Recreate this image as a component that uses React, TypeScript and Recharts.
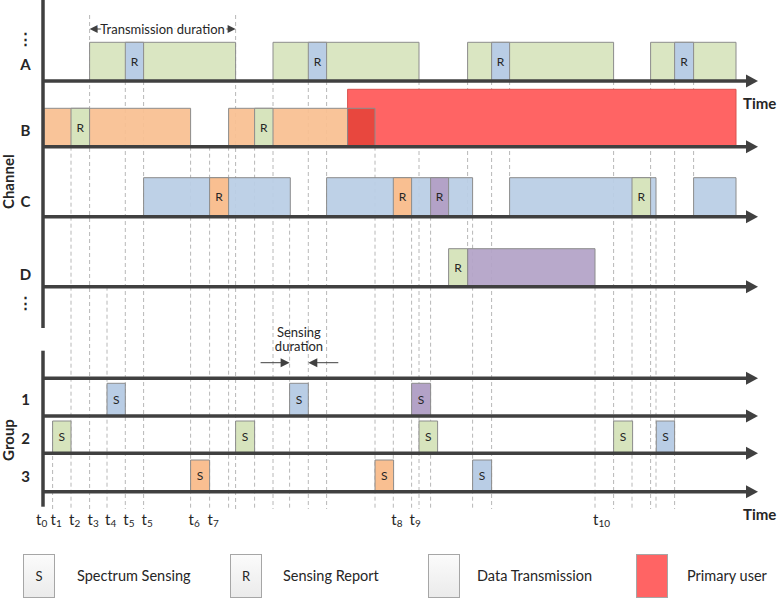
import React from 'react';
import { ComposedChart, XAxis, YAxis, ReferenceArea, ReferenceLine, Legend } from 'recharts';

// ---- chart values (time in slot units) ----
const channels = ['A', 'B', 'C', 'D'];
const groups = ['1', '2', '3'];

// data transmissions per channel
const transmissions = [
  { row: 'A', user: 'SU-A', start: 46.6, end: 192.6 },
  { row: 'A', user: 'SU-A', start: 230, end: 376 },
  { row: 'A', user: 'SU-A', start: 424.6, end: 570.6 },
  { row: 'A', user: 'SU-A', start: 607.6, end: 693 },
  { row: 'B', user: 'SU-B', start: 1, end: 147.6 },
  { row: 'B', user: 'SU-B', start: 185.6, end: 332 },
  { row: 'C', user: 'SU-C', start: 100.6, end: 247.3 },
  { row: 'C', user: 'SU-C', start: 283.6, end: 429.6 },
  { row: 'C', user: 'SU-C', start: 466.6, end: 613 },
  { row: 'C', user: 'SU-C', start: 650.6, end: 693 },
  { row: 'D', user: 'SU-D', start: 424.6, end: 552 },
];

// sensing reports sent on a channel
const reports = [
  { row: 'A', user: 'SU-C', start: 82.3, end: 100.6 },
  { row: 'A', user: 'SU-C', start: 265.3, end: 283.6 },
  { row: 'A', user: 'SU-C', start: 448.6, end: 466.6 },
  { row: 'A', user: 'SU-C', start: 631.6, end: 650.6 },
  { row: 'B', user: 'SU-A', start: 28, end: 46.6 },
  { row: 'B', user: 'SU-A', start: 211.6, end: 230 },
  { row: 'C', user: 'SU-B', start: 166.6, end: 185.6 },
  { row: 'C', user: 'SU-B', start: 350.3, end: 368.6 },
  { row: 'C', user: 'SU-D', start: 387.6, end: 405.6 },
  { row: 'C', user: 'SU-A', start: 589, end: 607.6 },
  { row: 'D', user: 'SU-A', start: 405.6, end: 424.6 },
];

// primary user occupancy
const primaryUse = [{ row: 'B', start: 304.6, end: 693 }];

// spectrum sensing per group
const sensing = [
  { row: '1', user: 'SU-C', start: 64, end: 82.3 },
  { row: '1', user: 'SU-C', start: 246.6, end: 265.3 },
  { row: '1', user: 'SU-D', start: 368.6, end: 387.6 },
  { row: '2', user: 'SU-A', start: 9.6, end: 28 },
  { row: '2', user: 'SU-A', start: 192.6, end: 211.6 },
  { row: '2', user: 'SU-A', start: 376, end: 394.6 },
  { row: '2', user: 'SU-A', start: 570.6, end: 589.6 },
  { row: '2', user: 'SU-C', start: 613.3, end: 631.6 },
  { row: '3', user: 'SU-B', start: 147.6, end: 166.6 },
  { row: '3', user: 'SU-B', start: 332, end: 350.6 },
  { row: '3', user: 'SU-C', start: 429.6, end: 448.6 },
];

const tickTimes = [0, 9.6, 28, 46.6, 64, 82.3, 100.6, 147.6, 166.6, 350.3, 368.6, 552];
const tickSubs = ['0', '1', '2', '3', '4', '5', '5', '6', '7', '8', '9', '10'];

// dashed guides: time and the level they hang from
const guides = [
  { t: 9.6, from: 'g2top' },
  { t: 28, from: 'B' },
  { t: 46.6, from: 'note' },
  { t: 64, from: 'D' },
  { t: 82.3, from: 'A' },
  { t: 100.6, from: 'A' },
  { t: 147.6, from: 'B' },
  { t: 166.6, from: 'B' },
  { t: 185.6, from: 'B' },
  { t: 192.6, from: 'note' },
  { t: 211.6, from: 'B' },
  { t: 230, from: 'A' },
  { t: 246.6, from: 'C' },
  { t: 265.3, from: 'A' },
  { t: 283.6, from: 'A' },
  { t: 332, from: 'B' },
  { t: 350.3, from: 'C' },
  { t: 368.6, from: 'C' },
  { t: 376, from: 'A' },
  { t: 387.6, from: 'C' },
  { t: 424.6, from: 'A', to: 'Dtop' },
  { t: 429.6, from: 'C' },
  { t: 448.6, from: 'A' },
  { t: 466.6, from: 'A', to: 'Ctop' },
  { t: 552, from: 'D' },
  { t: 570.6, from: 'A' },
  { t: 589, from: 'C' },
  { t: 607.6, from: 'A' },
  { t: 613, from: 'C' },
  { t: 631.6, from: 'A' },
  { t: 650.6, from: 'A', to: 'Ctop' },
];

const transmissionSpan = [46.6, 192.6];
const sensingSpan = [246.6, 265.3];

const legendItems = [
  { mark: 'S', label: 'Spectrum Sensing', user: '' },
  { mark: 'R', label: 'Sensing Report', user: '' },
  { mark: '', label: 'Data Transmission', user: '' },
  { mark: '', label: 'Primary user', user: 'PU' },
];

// ---- layout / styles ----
const W = 777;
const H = 599;
const GUTTER = 43;
const PLOT_H = 510;
const T_MAX = W - GUTTER;
const T_ARROW = 715;
const FONT = 'Lato, "Open Sans", sans-serif';
const INK = '#262626';
const AXIS_INK = '#404040';
const GUIDE = '#B8B8B8';
const EDGE = '#8C8C8C';

const userFill: Record<string, string> = {
  'SU-A': '#D7E4BD',
  'SU-B': '#F9BF91',
  'SU-C': '#B9CDE5',
  'SU-D': '#B3A2C7',
  PU: '#FF6464',
};
const OVERLAP = '#E8473E';

const rowBase: Record<string, number> = { A: 81, B: 146.7, C: 216.7, D: 286.7, '1': 416, '2': 453.3, '3': 491.7 };
const rowTop: Record<string, number> = { A: 42.3, B: 108.3, C: 177.7, D: 248.7, '1': 383.3, '2': 421, '3': 460 };
const PU_TOP = 89.3;
const levels: Record<string, number> = {
  ...rowBase,
  note: 15,
  g2top: 421,
  Ctop: 177.7,
  Dtop: 248.7,
  bottom: 509,
};
const arrowRows = [
  { y: rowBase.A, caption: true },
  { y: rowBase.B, caption: false },
  { y: rowBase.C, caption: false },
  { y: rowBase.D, caption: false },
  { y: 378.3, caption: false },
  { y: rowBase['1'], caption: false },
  { y: rowBase['2'], caption: false },
  { y: rowBase['3'], caption: true },
];
const rowLabels = ['⋮', ...channels, '⋮', ...groups];
const rowLabelY = [39, 64.3, 131, 202, 274.7, 303, 400, 438.7, 476.8];
const legendBoxLeft = [23, 230, 428, 636];
const legendTextLeft = [77, 283, 477, 687];

const ArrowLine = (props: any) => {
  const { x1, y1, x2, caption } = props;
  return (
    <g>
      <line x1={x1} y1={y1} x2={x2 - 10} y2={y1} stroke={AXIS_INK} strokeWidth={3.5} />
      <polygon points={`${x2},${y1} ${x2 - 12},${y1 - 6.5} ${x2 - 12},${y1 + 6.5}`} fill={AXIS_INK} />
      {caption && (
        <text x={x2 - 15} y={y1 + 28} fontFamily={FONT} fontSize={15} fontWeight={700} fill={INK}>
          Time
        </text>
      )}
    </g>
  );
};

const TransmissionNote = (props: any) => {
  const { x1, y1, x2 } = props;
  const mid = (x1 + x2) / 2;
  return (
    <g>
      <line x1={x1 + 6} y1={y1} x2={x2 - 6} y2={y1} stroke={AXIS_INK} strokeWidth={1} />
      <polygon points={`${x1},${y1} ${x1 + 8},${y1 - 4} ${x1 + 8},${y1 + 4}`} fill={AXIS_INK} />
      <polygon points={`${x2},${y1} ${x2 - 8},${y1 - 4} ${x2 - 8},${y1 + 4}`} fill={AXIS_INK} />
      <text x={mid} y={y1 + 4.5} textAnchor="middle" fontFamily={FONT} fontSize={13} fill={INK}
        stroke="#fff" strokeWidth={5} paintOrder="stroke">
        Transmission duration
      </text>
    </g>
  );
};

const SensingNote = (props: any) => {
  const { x1, y1, x2 } = props;
  const mid = (x1 + x2) / 2;
  return (
    <g>
      <line x1={x1 - 29} y1={y1} x2={x1 - 6} y2={y1} stroke={AXIS_INK} strokeWidth={1} />
      <polygon points={`${x1},${y1} ${x1 - 9},${y1 - 4.5} ${x1 - 9},${y1 + 4.5}`} fill={AXIS_INK} />
      <line x1={x2 + 6} y1={y1} x2={x2 + 30} y2={y1} stroke={AXIS_INK} strokeWidth={1} />
      <polygon points={`${x2},${y1} ${x2 + 9},${y1 - 4.5} ${x2 + 9},${y1 + 4.5}`} fill={AXIS_INK} />
      <text x={mid} y={y1 - 26} textAnchor="middle" fontFamily={FONT} fontSize={13} fill={INK}>Sensing</text>
      <text x={mid} y={y1 - 11.5} textAnchor="middle" fontFamily={FONT} fontSize={13} fill={INK}>duration</text>
    </g>
  );
};

const renderTimeTick = (props: any) => {
  const { x, y, index } = props;
  // t0 sits just left of the vertical axis
  const left = index === 0 ? x - 7 : x - 2;
  return (
    <text x={left} y={y + 15} fontFamily={FONT} fontSize={15} fill={INK}>
      t<tspan fontSize={10} dy={2}>{tickSubs[index]}</tspan>
    </text>
  );
};

const renderRowTick = (props: any) => {
  const { x, y, index } = props;
  return (
    <text x={x - 17.5} y={y} dy="0.36em" textAnchor="middle" fontFamily={FONT} fontSize={15} fontWeight={700} fill={INK}>
      {rowLabels[index]}
    </text>
  );
};

const LegendBar = () => (
  <div style={{ position: 'relative', width: W, height: 45, fontFamily: FONT, color: INK }}>
    {legendItems.map((item, i) => (
      <React.Fragment key={item.label}>
        <div
          style={{
            position: 'absolute',
            left: legendBoxLeft[i],
            top: 0,
            width: 32,
            height: 44,
            boxSizing: 'border-box',
            border: '1px solid #A6A6A6',
            background: item.user ? userFill[item.user] : 'linear-gradient(#fbfbfb, #ebebeb)',
            display: 'flex',
            alignItems: 'center',
            justifyContent: 'center',
            fontSize: 13,
          }}
        >
          {item.mark}
        </div>
        <span style={{ position: 'absolute', left: legendTextLeft[i], top: 12, fontSize: 14.5, lineHeight: '20px', whiteSpace: 'nowrap' }}>
          {item.label}
        </span>
      </React.Fragment>
    ))}
  </div>
);

const markLabel = (value: string) => ({ value, position: 'center' as const, fill: INK, fontSize: 12, fontFamily: FONT });

export default function App() {
  const overlaps = transmissions
    .filter((b) => primaryUse.some((p) => p.row === b.row))
    .flatMap((b) =>
      primaryUse
        .filter((p) => p.row === b.row && Math.min(b.end, p.end) > Math.max(b.start, p.start))
        .map((p) => ({ row: b.row, start: Math.max(b.start, p.start), end: Math.min(b.end, p.end) }))
    );

  return (
    <div style={{ width: W, height: H, position: 'relative', background: '#fff' }}>
      <style>{'body{margin:0;background:#fff}'}</style>
      <ComposedChart width={W} height={H} data={[]} margin={{ top: 0, right: 0, bottom: 0, left: 0 }}>
        <XAxis
          type="number"
          dataKey="t"
          domain={[0, T_MAX]}
          allowDataOverflow
          ticks={tickTimes}
          interval={0}
          tick={renderTimeTick}
          axisLine={false}
          tickLine={false}
          tickSize={0}
          tickMargin={0}
          height={H - PLOT_H}
        />
        <YAxis
          type="number"
          domain={[0, PLOT_H]}
          allowDataOverflow
          reversed
          ticks={rowLabelY}
          interval={0}
          tick={renderRowTick}
          axisLine={false}
          tickLine={false}
          tickSize={0}
          tickMargin={0}
          width={GUTTER}
        />

        {guides.map((g, i) => (
          <ReferenceLine
            key={`g${i}`}
            segment={[{ x: g.t, y: levels[g.from] }, { x: g.t, y: levels[g.to ?? 'bottom'] }]}
            stroke={GUIDE}
            strokeWidth={1}
            strokeDasharray="4 3"
            ifOverflow="visible"
            zIndex={50}
          />
        ))}

        {transmissions.map((b, i) => (
          <ReferenceArea key={`tx${i}`} x1={b.start} x2={b.end} y1={rowTop[b.row]} y2={rowBase[b.row]}
            fill={userFill[b.user]} fillOpacity={0.93} stroke={EDGE} strokeWidth={1} ifOverflow="visible" zIndex={100} />
        ))}
        {primaryUse.map((p, i) => (
          <ReferenceArea key={`pu${i}`} x1={p.start} x2={p.end} y1={PU_TOP} y2={rowBase[p.row]}
            fill={userFill.PU} fillOpacity={1} stroke="#D9534F" strokeWidth={1} ifOverflow="visible" zIndex={101} />
        ))}
        {overlaps.map((o, i) => (
          <ReferenceArea key={`ov${i}`} x1={o.start} x2={o.end} y1={rowTop[o.row]} y2={rowBase[o.row]}
            fill={OVERLAP} fillOpacity={1} stroke={EDGE} strokeWidth={1} ifOverflow="visible" zIndex={102} />
        ))}
        {reports.map((b, i) => (
          <ReferenceArea key={`r${i}`} x1={b.start} x2={b.end} y1={rowTop[b.row]} y2={rowBase[b.row]}
            fill={userFill[b.user]} fillOpacity={1} stroke={EDGE} strokeWidth={1} ifOverflow="visible" zIndex={103}
            label={markLabel('R')} />
        ))}
        {sensing.map((b, i) => (
          <ReferenceArea key={`s${i}`} x1={b.start} x2={b.end} y1={rowTop[b.row]} y2={rowBase[b.row]}
            fill={userFill[b.user]} fillOpacity={1} stroke={EDGE} strokeWidth={1} ifOverflow="visible" zIndex={103}
            label={markLabel('S')} />
        ))}

        {arrowRows.map((r, i) => (
          <ReferenceLine
            key={`a${i}`}
            segment={[{ x: 0, y: r.y }, { x: T_ARROW, y: r.y }]}
            ifOverflow="visible"
            zIndex={450}
            shape={(p: any) => <ArrowLine {...p} caption={r.caption} />}
          />
        ))}

        <ReferenceLine segment={[{ x: 0, y: 0 }, { x: 0, y: 328 }]} stroke={AXIS_INK} strokeWidth={3.5} ifOverflow="visible" zIndex={460} />
        <ReferenceLine segment={[{ x: 0, y: 350.7 }, { x: 0, y: 506.7 }]} stroke={AXIS_INK} strokeWidth={3.5} ifOverflow="visible" zIndex={460} />

        <ReferenceArea x1={-40} x2={-28} y1={rowBase.B} y2={rowBase.C} fill="none" stroke="none" ifOverflow="visible"
          label={{ value: 'Channel', position: 'center', angle: -90, fontSize: 15, fontWeight: 700, fill: INK, fontFamily: FONT }} />
        <ReferenceArea x1={-40} x2={-28} y1={420} y2={460} fill="none" stroke="none" ifOverflow="visible"
          label={{ value: 'Group', position: 'center', angle: -90, fontSize: 15, fontWeight: 700, fill: INK, fontFamily: FONT }} />

        <ReferenceLine
          segment={[{ x: transmissionSpan[0], y: 29 }, { x: transmissionSpan[1], y: 29 }]}
          ifOverflow="visible"
          zIndex={470}
          shape={(p: any) => <TransmissionNote {...p} />}
        />
        <ReferenceLine
          segment={[{ x: sensingSpan[0], y: 362.7 }, { x: sensingSpan[1], y: 362.7 }]}
          ifOverflow="visible"
          zIndex={470}
          shape={(p: any) => <SensingNote {...p} />}
        />

        <Legend
          layout="vertical"
          align="center"
          verticalAlign="middle"
          wrapperStyle={{ position: 'absolute', top: 554, left: 0, width: W, height: 45 }}
          content={() => <LegendBar />}
        />
      </ComposedChart>
    </div>
  );
}
